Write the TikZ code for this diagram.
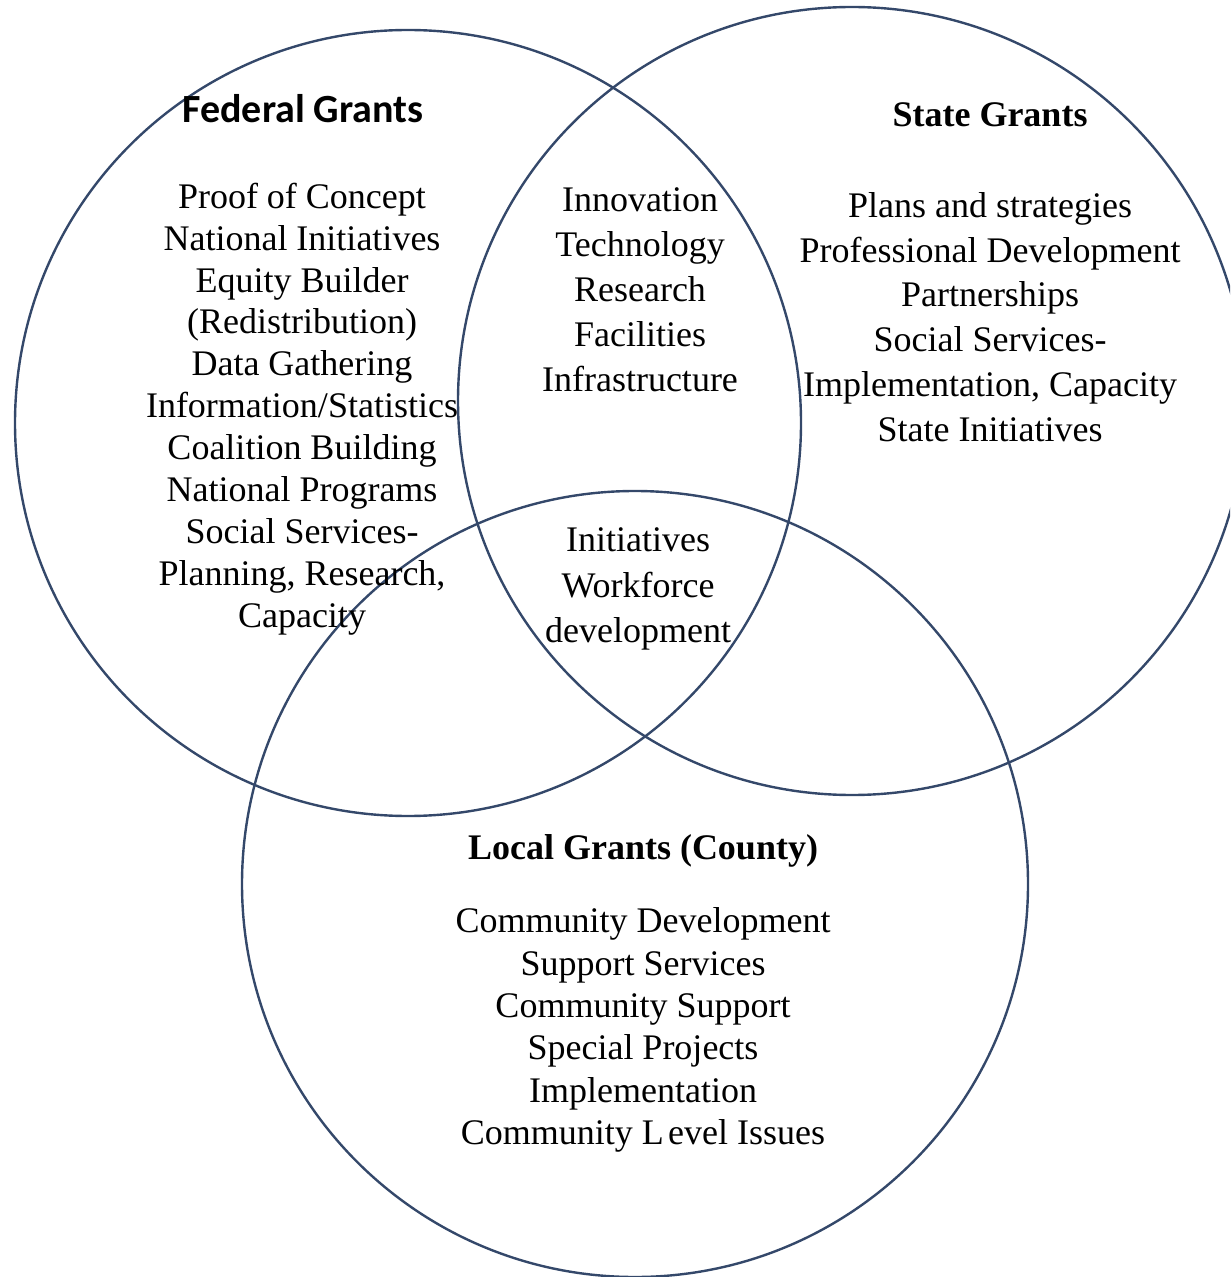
\documentclass[tikz,border=0pt]{standalone}
\usepackage{fontspec}
\setmainfont{Liberation Serif}
\newfontfamily\calibri{Carlito}
\definecolor{circ}{RGB}{52,72,106}
\begin{document}
\begin{tikzpicture}[x=0.5pt,y=-0.5pt,
  ring/.style={draw=circ,line width=1.2pt},
  body/.style={align=center,inner sep=0pt,font=\fontsize{18}{#1}\selectfont},
  body/.default=21,
  ttl/.style={inner sep=0pt,font=\fontsize{18}{21}\selectfont\bfseries}]
\useasboundingbox (0,0) rectangle (1230,1277);
\begin{scope}
\clip (0,0) rectangle (1230,1277);
\draw[ring] (408,423) circle[radius=393];
\draw[ring] (852,401) circle[radius=394];
\draw[ring] (635,884) circle[radius=393];
\end{scope}
\node[inner sep=0pt,font=\calibri\fontsize{20}{24}\selectfont\bfseries] (fedt) at (303,109) {Federal Grants};
\node[body=20.95] (fedl) at (302,409) {Proof of Concept\\National Initiatives\\Equity Builder\\(Redistribution)\\Data Gathering\\Information/Statistics\\Coalition Building\\National Programs\\Social Services-\\Planning, Research,\\Capacity};
\node[body=22.5] (fs) at (640,290) {Innovation\\Technology\\Research\\Facilities\\Infrastructure};
\node[body=22.7] (all) at (638,589) {Initiatives\\Workforce\\development};
\node[ttl] (stt) at (990,115) {State Grants};
\node[body=22.4] (stl) at (990,317) {Plans and strategies\\Professional Development\\Partnerships\\Social Services-\\Implementation, Capacity\\State Initiatives};
\node[ttl] (loct) at (643,851) {Local Grants (County)};
\node[body=21.2] (locl) at (643,1030) {Community Development\\Support Services\\Community Support\\Special Projects\\Implementation\\Community L\hspace{0.12em}evel Issues};
\end{tikzpicture}
\end{document}
